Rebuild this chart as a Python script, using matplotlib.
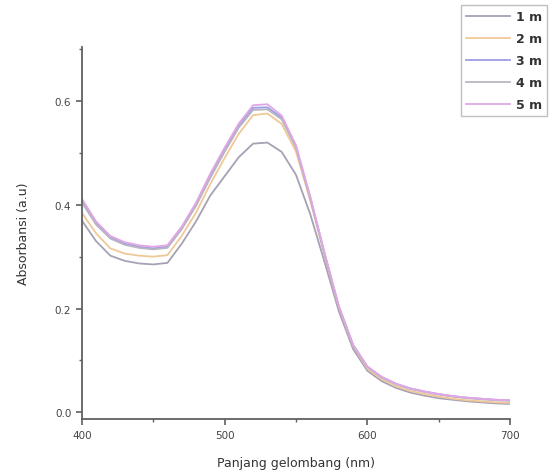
import matplotlib
matplotlib.use("Agg")
import matplotlib.pyplot as plt
from matplotlib.ticker import MultipleLocator

# wavelength grid (nm)
wavelength = [400, 410, 420, 430, 440, 450, 460, 470, 480, 490, 500,
              510, 520, 530, 540, 550, 560, 570, 580, 590, 600,
              610, 620, 630, 640, 650, 660, 670, 680, 690, 700]

# absorbance
abs_1m = [0.370, 0.330, 0.302, 0.292, 0.287, 0.285, 0.288, 0.325, 0.368, 0.418, 0.455,
          0.492, 0.518, 0.520, 0.502, 0.458, 0.382, 0.290, 0.195, 0.122, 0.080,
          0.060, 0.047, 0.038, 0.032, 0.027, 0.024, 0.021, 0.019, 0.017, 0.016]
abs_2m = [0.385, 0.345, 0.316, 0.306, 0.302, 0.300, 0.303, 0.340, 0.385, 0.440, 0.490,
          0.537, 0.573, 0.576, 0.556, 0.503, 0.408, 0.303, 0.202, 0.128, 0.084,
          0.064, 0.050, 0.041, 0.035, 0.030, 0.026, 0.023, 0.021, 0.019, 0.018]
abs_3m = [0.408, 0.364, 0.337, 0.325, 0.319, 0.316, 0.319, 0.355, 0.400, 0.455, 0.505,
          0.552, 0.587, 0.588, 0.568, 0.512, 0.414, 0.306, 0.204, 0.130, 0.088,
          0.068, 0.055, 0.046, 0.040, 0.035, 0.031, 0.028, 0.026, 0.024, 0.023]
abs_4m = [0.405, 0.362, 0.335, 0.323, 0.317, 0.314, 0.317, 0.353, 0.398, 0.452, 0.502,
          0.549, 0.583, 0.584, 0.565, 0.510, 0.412, 0.305, 0.203, 0.129, 0.087,
          0.067, 0.054, 0.045, 0.039, 0.034, 0.030, 0.027, 0.025, 0.023, 0.022]
abs_5m = [0.412, 0.368, 0.340, 0.328, 0.322, 0.319, 0.322, 0.358, 0.404, 0.460, 0.510,
          0.557, 0.592, 0.594, 0.572, 0.515, 0.416, 0.308, 0.205, 0.130, 0.088,
          0.068, 0.055, 0.046, 0.040, 0.035, 0.031, 0.028, 0.026, 0.024, 0.023]

labels = ["1 m", "2 m", "3 m", "4 m", "5 m"]
series = [abs_1m, abs_2m, abs_3m, abs_4m, abs_5m]
colors = ["#a4a2b4", "#f0c896", "#9c9ee6", "#b8b6c0", "#e2a6e6"]

fig = plt.figure(figsize=(5.6, 4.77), dpi=100)
ax = fig.add_axes([0.146, 0.119, 0.765, 0.780])

for y, lab, c in zip(series, labels, colors):
    ax.plot(wavelength, y, color=c, linewidth=1.3, label=lab)

ax.set_xlim(400, 700)
ax.set_ylim(-0.0135, 0.704)
ax.xaxis.set_major_locator(MultipleLocator(100))
ax.xaxis.set_minor_locator(MultipleLocator(50))
ax.yaxis.set_major_locator(MultipleLocator(0.2))
ax.yaxis.set_minor_locator(MultipleLocator(0.1))
ax.yaxis.set_major_formatter(plt.FuncFormatter(lambda v, p: "%.1f" % v))

for s in ["top", "right"]:
    ax.spines[s].set_visible(False)
for s in ["left", "bottom"]:
    ax.spines[s].set_color("#606060")
    ax.spines[s].set_linewidth(1.3)

ax.tick_params(which="major", direction="out", length=4, width=1.2, color="#606060",
               labelsize=7.5, labelcolor="#444444")
ax.tick_params(which="minor", direction="out", length=2.5, width=1.0, color="#606060")

ax.set_xlabel("Panjang gelombang (nm)", fontsize=9, color="#333333", labelpad=12)
ax.set_ylabel("Absorbansi (a.u)", fontsize=9, color="#333333", labelpad=18)

leg = fig.legend(loc="upper right", bbox_to_anchor=(0.979, 0.99), fontsize=9,
                 frameon=True, fancybox=False, handlelength=3.5, labelspacing=0.72,
                 borderpad=0.4, handletextpad=0.5, borderaxespad=0.1)
leg.get_frame().set_edgecolor("#b0b0b0")
leg.get_frame().set_linewidth(1.0)
for t in leg.get_texts():
    t.set_fontweight("bold")
    t.set_color("#333333")

fig.savefig("out.png", dpi=100)
